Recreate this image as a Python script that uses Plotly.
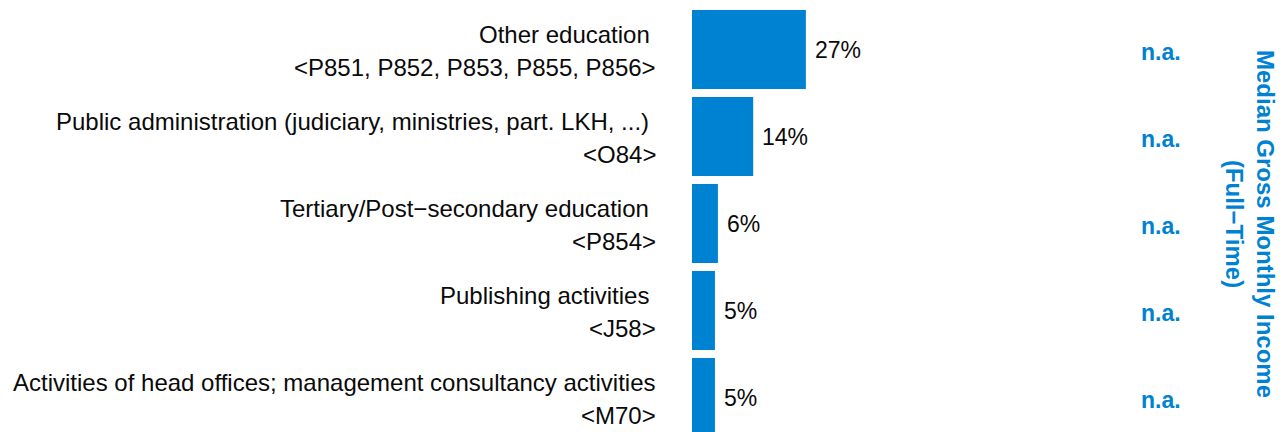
import plotly.graph_objects as go

category_names = [
    "Other education ",
    "Public administration (judiciary, ministries, part. LKH, ...) ",
    "Tertiary/Post\u2212secondary education ",
    "Publishing activities ",
    "Activities of head offices; management consultancy activities",
]
category_codes = [
    "<P851, P852, P853, P855, P856>",
    "<O84>",
    "<P854>",
    "<J58>",
    "<M70>",
]
shares = [26.8, 14.4, 6.1, 5.4, 5.4]
share_labels = ["27%", "14%", "6%", "5%", "5%"]
income_labels = ["n.a.", "n.a.", "n.a.", "n.a.", "n.a."]
income_title = "Median Gross Monthly Income<br>(Full\u2212Time)"

BLUE = "#0082D2"
FONT = "Liberation Sans, Arial"
ypos = list(range(len(category_names)))

fig = go.Figure()
fig.add_trace(go.Bar(
    x=shares, y=ypos, orientation="h",
    marker=dict(color=BLUE, line=dict(width=0)),
    width=0.908, hoverinfo="skip",
))

esc = lambda s: s.replace("<", "&lt;").replace(">", "&gt;")

for yi, name, code in zip(ypos, category_names, category_codes):
    fig.add_annotation(x=0, y=yi, xref="paper", yref="y", text=esc(name), showarrow=False,
                       xanchor="right", yanchor="middle", xshift=-34, yshift=15,
                       font=dict(family=FONT, size=24, color="#0a0a0a"))
    fig.add_annotation(x=0, y=yi, xref="paper", yref="y", text=esc(code), showarrow=False,
                       xanchor="right", yanchor="middle", xshift=-34, yshift=-18,
                       font=dict(family=FONT, size=24, color="#0a0a0a"))

for yi, v, lab in zip(ypos, shares, share_labels):
    fig.add_annotation(x=v, y=yi, xref="x", yref="y", text=lab, showarrow=False,
                       xanchor="left", yanchor="middle", xshift=7, yshift=-1,
                       font=dict(family=FONT, size=23, color="#0a0a0a"))

for yi, lab in zip(ypos, income_labels):
    fig.add_annotation(x=0.782, y=yi, xref="paper", yref="y", text="<b>%s</b>" % lab,
                       showarrow=False, xanchor="center", yanchor="middle", yshift=-3,
                       font=dict(family=FONT, size=23, color=BLUE))

fig.add_annotation(x=0.93, y=0.50, xref="paper", yref="paper", text="<b>%s</b>" % income_title,
                   showarrow=False, textangle=90, xanchor="center", yanchor="middle",
                   font=dict(family=FONT, size=24, color=BLUE))

fig.update_layout(
    width=1284, height=432,
    margin=dict(l=684, r=0, t=0, b=0, pad=0),
    paper_bgcolor="white", plot_bgcolor="white",
    showlegend=False,
    xaxis=dict(range=[0, 141.2], visible=False, fixedrange=True),
    yaxis=dict(range=[4.489, -0.477], visible=False, fixedrange=True),
)

fig.write_html("out.html")
